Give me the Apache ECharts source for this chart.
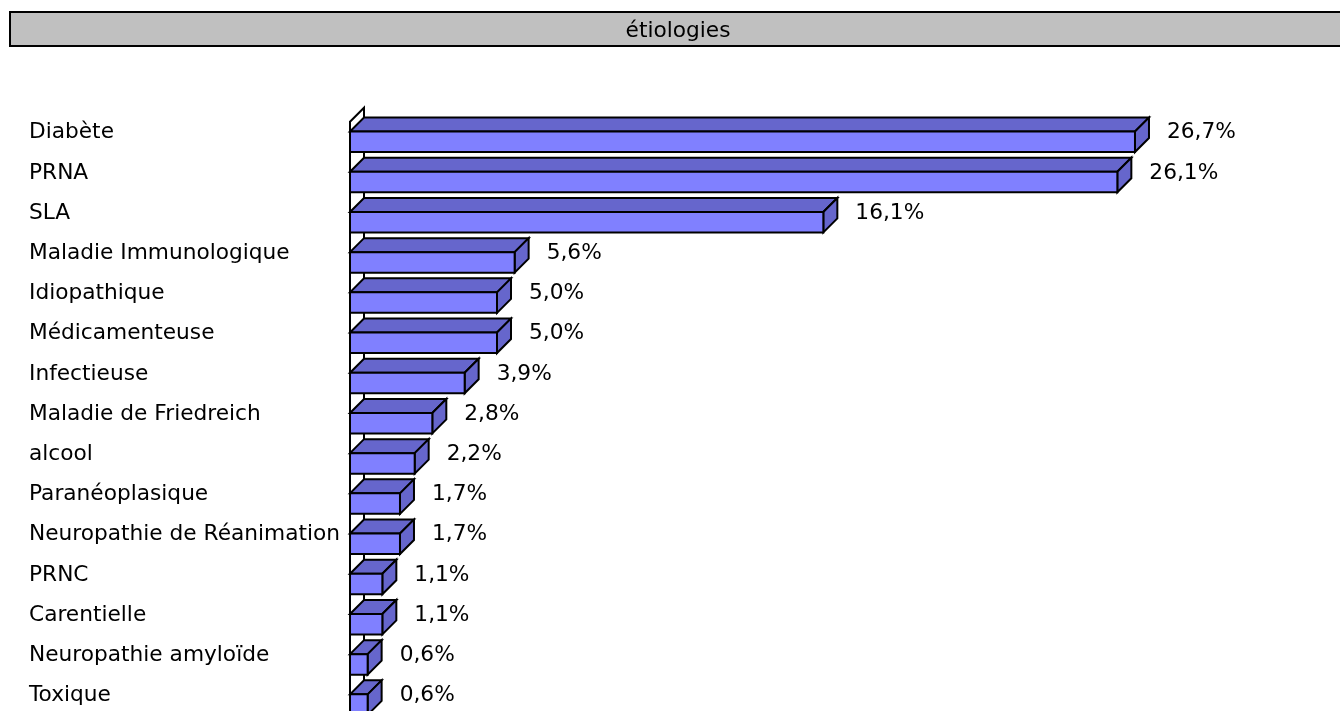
<!DOCTYPE html>
<html>
<head>
<meta charset="utf-8">
<script src="https://cdn.jsdelivr.net/npm/echarts@6/dist/echarts.min.js"></script>
<style>
html,body{margin:0;padding:0;background:#fff;overflow:hidden;}
#chart{width:1340px;height:740px;}
</style>
</head>
<body>
<div id="chart"></div>
<script>
const title = 'étiologies';
const categories = ['Diabète','PRNA','SLA','Maladie Immunologique','Idiopathique','Médicamenteuse','Infectieuse','Maladie de Friedreich','alcool','Paranéoplasique','Neuropathie de Réanimation','PRNC','Carentielle','Neuropathie amyloïde','Toxique'];
const values = [26.7,26.1,16.1,5.6,5.0,5.0,3.9,2.8,2.2,1.7,1.7,1.1,1.1,0.6,0.6];

const FONT = 'DejaVu Sans';
const FS = 21.7;
const DEPTH = 14;
const FRONT_H = 20.5;
const LABEL_LEFT = 29;

const chart = echarts.init(document.getElementById('chart'));

function fmt(v){ return v.toFixed(1).replace('.', ',') + '%'; }

const barData = values.map((v,i)=>[v,i]);

chart.setOption({
  animation:false,
  graphic:[
    {type:'rect', z:0, shape:{x:10,y:12,width:1340,height:34}, style:{fill:'#C0C0C0', stroke:'#000', lineWidth:2}},
    {type:'text', z:1, x:678, y:31.5, style:{text:title, font: FS+'px "'+FONT+'"', fill:'#000', align:'center', verticalAlign:'middle'}}
  ],
  grid:{left:350, top:121.7, width:30*29.4, height:603},
  xAxis:{type:'value', min:0, max:30, show:false},
  yAxis:{type:'category', inverse:true, data:categories,
    axisLine:{show:false}, axisTick:{show:false}, splitLine:{show:false},
    axisLabel:{show:false}
  },
  series:[
    {
      type:'custom', z:1, silent:true,
      data:[[0,0]],
      encode:{x:0,y:1},
      renderItem:function(params, api){
        const cs = params.coordSys;
        const x = cs.x, y = cs.y, h = cs.height;
        return {type:'polygon', shape:{points:[[x,y],[x+DEPTH,y-DEPTH],[x+DEPTH,y+h-DEPTH],[x,y+h]]},
          style:{fill:'#fff', stroke:'#000', lineWidth:2}};
      }
    },
    {
      type:'custom', z:2, silent:true,
      data:barData,
      encode:{x:0,y:1},
      renderItem:function(params, api){
        const idx = api.value(1);
        const v = api.value(0);
        const p0 = api.coord([0, idx]);
        const p = api.coord([v, idx]);
        const x0 = p0[0], x1 = p[0], cy = p[1];
        const yt = cy - FRONT_H/2, yb = cy + FRONT_H/2, d = DEPTH;
        const st = {stroke:'#000', lineWidth:2, lineJoin:'miter'};
        return {type:'group', children:[
          {type:'polygon', shape:{points:[[x0,yt],[x0+d,yt-d],[x1+d,yt-d],[x1,yt]]}, style:Object.assign({fill:'#6666CC'}, st)},
          {type:'polygon', shape:{points:[[x1,yt],[x1+d,yt-d],[x1+d,yb-d],[x1,yb]]}, style:Object.assign({fill:'#6666CC'}, st)},
          {type:'rect', shape:{x:x0,y:yt,width:x1-x0,height:FRONT_H}, style:Object.assign({fill:'#8080FF'}, st)},
          {type:'text', x:x1+d+18, y:cy-9, style:{text:fmt(v), font: FS+'px "'+FONT+'"', fill:'#000', align:'left', verticalAlign:'middle'}},
          {type:'text', x:LABEL_LEFT, y:cy-9, style:{text:categories[idx], font: FS+'px "'+FONT+'"', fill:'#000', align:'left', verticalAlign:'middle'}}
        ]};
      }
    }
  ]
});
</script>
</body>
</html>
